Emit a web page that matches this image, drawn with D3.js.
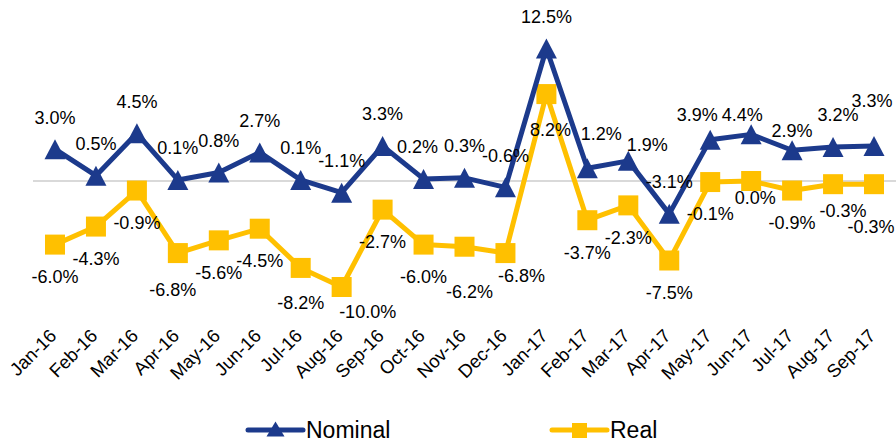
<!DOCTYPE html>
<html>
<head>
<meta charset="utf-8">
<script src="https://cdn.jsdelivr.net/npm/d3@7"></script>
<style>
  html, body { margin: 0; padding: 0; background: #fff; }
  svg { display: block; font-family: "Liberation Sans", Arial, sans-serif; }
</style>
</head>
<body>
<svg id="chart" width="896" height="443"></svg>
<script>
// Monthly growth, nominal vs real (%)
const months = ["Jan-16","Feb-16","Mar-16","Apr-16","May-16","Jun-16","Jul-16","Aug-16","Sep-16","Oct-16","Nov-16","Dec-16",
                "Jan-17","Feb-17","Mar-17","Apr-17","May-17","Jun-17","Jul-17","Aug-17","Sep-17"];
const nominal = [3.0, 0.5, 4.5, 0.1, 0.8, 2.7, 0.1, -1.1, 3.3, 0.2, 0.3, -0.6,
                 12.5, 1.2, 1.9, -3.1, 3.9, 4.4, 2.9, 3.2, 3.3];
const real = [-6.0, -4.3, -0.9, -6.8, -5.6, -4.5, -8.2, -10.0, -2.7, -6.0, -6.2, -6.8,
              8.2, -3.7, -2.3, -7.5, -0.1, 0.0, -0.9, -0.3, -0.3];
const seriesNames = ["Nominal", "Real"];

const NAVY = "#1C3A8C";
const GOLD = "#FFC000";

const svg = d3.select("#chart");

const x = d3.scalePoint().domain(months).range([55, 874]);
const y = d3.scaleLinear().domain([-15, 15]).range([340, 22]);

// zero reference line
svg.append("line")
  .attr("x1", 33).attr("x2", 896)
  .attr("y1", y(0)).attr("y2", y(0))
  .attr("stroke", "#D9D9D9").attr("stroke-width", 2);

// category axis (labels only, rotated)
const axis = svg.append("g")
  .attr("transform", "translate(0,337)")
  .call(d3.axisBottom(x).tickSize(0).tickPadding(0));
axis.select(".domain").remove();
axis.selectAll("text")
  .attr("x", 0).attr("y", 0).attr("dy", 0)
  .attr("text-anchor", "end")
  .attr("transform", "translate(2,0) rotate(-45)")
  .attr("font-family", "Liberation Sans, Arial, sans-serif")
  .attr("font-size", 18.5)
  .attr("fill", "#000");

const fmt = v => v.toFixed(1) + "%";

const tri = (w, h) => `M0,${-h/2}L${w/2},${h/2}L${-w/2},${h/2}Z`;

function drawSeries(values, color, markerKind, labelSide, nudges) {
  const pts = months.map((m, i) => ({ m, v: values[i], i }));
  const line = d3.line().x(d => x(d.m)).y(d => y(d.v));
  svg.append("path")
    .datum(pts)
    .attr("d", line)
    .attr("fill", "none")
    .attr("stroke", color)
    .attr("stroke-width", 5)
    .attr("stroke-linejoin", "round");

  const g = svg.append("g");
  if (markerKind === "triangle") {
    g.selectAll("path").data(pts).join("path")
      .attr("d", tri(21, 20))
      .attr("transform", d => `translate(${x(d.m)},${y(d.v)})`)
      .attr("fill", color);
  } else {
    g.selectAll("rect").data(pts).join("rect")
      .attr("x", d => x(d.m) - 10).attr("y", d => y(d.v) - 10)
      .attr("width", 20).attr("height", 20)
      .attr("fill", color);
  }

  svg.append("g").selectAll("text").data(pts).join("text")
    .attr("x", d => x(d.m) + ((nudges[d.i] || [0, 0])[0]))
    .attr("y", d => y(d.v) + labelSide * 32 + 6.4 + ((nudges[d.i] || [0, 0])[1]))
    .attr("text-anchor", "middle")
    .attr("font-size", 18)
    .attr("fill", "#000")
    .text(d => fmt(d.v));
}

// label placement tweaks where neighbouring labels would collide
const nominalNudge = { 9: [-6, 0], 13: [14, -3], 14: [19, 16], 16: [-13, 7], 17: [-9, 12], 18: [0, 12], 19: [5, 0], 20: [-2, -13] };
const realNudge = { 3: [-5, 5], 6: [0, 3], 7: [26, -7], 10: [5, 13], 11: [16, -9], 12: [4, 4], 17: [4, -15], 19: [10, -6], 20: [-3, 10] };

drawSeries(real, GOLD, "square", 1, realNudge);
drawSeries(nominal, NAVY, "triangle", -1, nominalNudge);

// legend
const legend = svg.append("g");
const legendItems = [
  { name: seriesNames[0], color: NAVY, kind: "triangle", x0: 248 },
  { name: seriesNames[1], color: GOLD, kind: "square", x0: 552 }
];
legendItems.forEach(it => {
  const gg = legend.append("g");
  gg.append("line")
    .attr("x1", it.x0).attr("x2", it.x0 + 55)
    .attr("y1", 430).attr("y2", 430)
    .attr("stroke", it.color).attr("stroke-width", 5)
    .attr("stroke-linecap", "round");
  if (it.kind === "triangle") {
    gg.append("path").attr("d", tri(18, 15))
      .attr("transform", `translate(${it.x0 + 27.5},429)`)
      .attr("fill", it.color);
  } else {
    gg.append("rect")
      .attr("x", it.x0 + 20).attr("y", 423)
      .attr("width", 15).attr("height", 15)
      .attr("fill", it.color);
  }
  gg.append("text")
    .attr("x", it.x0 + 58).attr("y", 438)
    .attr("font-size", 23)
    .attr("fill", "#000")
    .text(it.name);
});
</script>
</body>
</html>
